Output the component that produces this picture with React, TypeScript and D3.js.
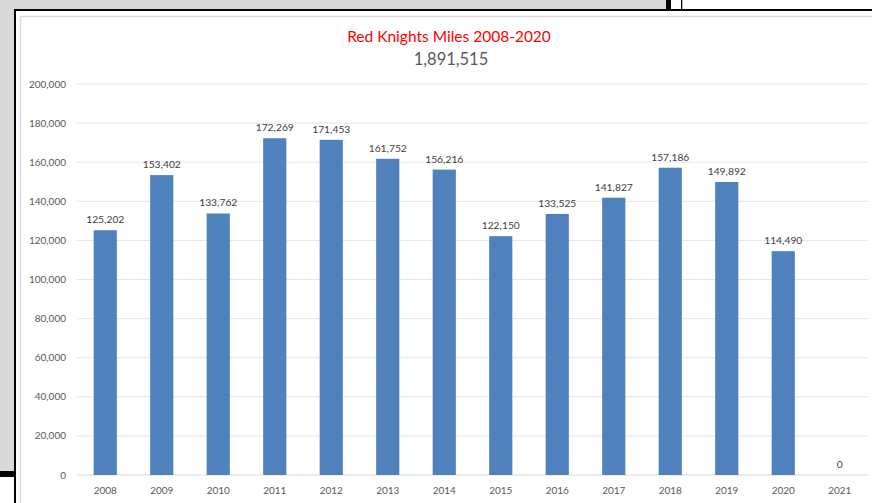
import React from "react";
import * as d3 from "d3";

const years = ["2008","2009","2010","2011","2012","2013","2014","2015","2016","2017","2018","2019","2020","2021"];
const miles = [125202,153402,133762,172269,171453,161752,156216,122150,133525,141827,157186,149892,114490,0];
const yTicks = [0,20000,40000,60000,80000,100000,120000,140000,160000,180000,200000];
const titleText = "Red Knights Miles 2008-2020";
const subtitleText = "1,891,515";

const W = 872, H = 503;
const FONT = "Lato, 'Open Sans', sans-serif";

export default function App() {
  const x = d3.scaleBand().domain(years).range([77, 868]).paddingInner(0.59).paddingOuter(0.295);
  const y = d3.scaleLinear().domain([0, 200000]).range([475, 84]);
  const fmt = d3.format(",");
  return (
    <svg width={W} height={H} style={{ position: "fixed", left: 0, top: 0 }} xmlns="http://www.w3.org/2000/svg">
      <rect x={0} y={0} width={W} height={H} fill="#d9d9d9" />
      <rect x={14} y={9} width={W - 14} height={H - 9} fill="#ffffff" />
      {/* top strip decorations */}
      <rect x={666} y={0} width={5} height={10} fill="#000" />
      <rect x={671} y={0} width={10} height={9} fill="#fff" />
      <rect x={681} y={0} width={1.5} height={10} fill="#000" />
      <rect x={682.5} y={0} width={W - 682.5} height={9} fill="#fff" />
      {/* left strip bottom */}
      <rect x={0} y={471} width={14} height={6} fill="#000" />
      <rect x={0} y={477} width={14} height={H - 477} fill="#fff" />
      {/* black frame lines */}
      <rect x={14} y={9} width={W - 14} height={2} fill="#000" />
      <rect x={14} y={9} width={2} height={H - 9} fill="#000" />
      {/* chart area border */}
      <rect x={20.5} y={16.5} width={W} height={H} fill="#fff" stroke="#d9d9d9" strokeWidth={1.5} />
      {/* gridlines */}
      {yTicks.map((t) => (
        <line key={t} x1={77} x2={868} y1={y(t)} y2={y(t)} stroke={t === 0 ? "#d9d9d9" : "#e6e6e6"} strokeWidth={1} />
      ))}
      {yTicks.map((t) => (
        <text key={"l" + t} x={66} y={y(t) + 3.5} textAnchor="end" fontFamily={FONT} fontSize={10} fill="#595959">{fmt(t)}</text>
      ))}
      {/* bars */}
      {miles.map((v, i) => (
        <rect key={years[i]} x={x(years[i])} y={y(v)} width={x.bandwidth()} height={y(0) - y(v)} fill="#4f81bd" />
      ))}
      {miles.map((v, i) => (
        <text key={"d" + i} x={(x(years[i]) as number) + x.bandwidth() / 2} y={y(v) - 7} textAnchor="middle" fontFamily={FONT} fontSize={10.3} fill="#404040">{fmt(v)}</text>
      ))}
      {years.map((yr) => (
        <text key={"x" + yr} x={(x(yr) as number) + x.bandwidth() / 2} y={494} textAnchor="middle" fontFamily={FONT} fontSize={10} fill="#595959">{yr}</text>
      ))}
      <text x={449} y={42} textAnchor="middle" fontFamily={FONT} fontSize={15.5} fill="#ff0000">{titleText}</text>
      <text x={451} y={65} textAnchor="middle" fontFamily={FONT} fontSize={16.5} fill="#595959">{subtitleText}</text>
    </svg>
  );
}
